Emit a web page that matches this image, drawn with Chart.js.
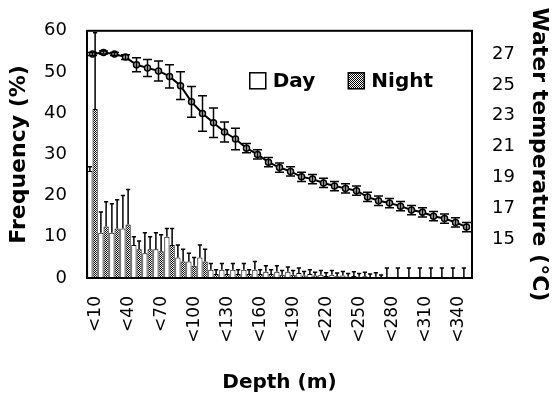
<!DOCTYPE html>
<html>
<head>
<meta charset="utf-8">
<script src="https://cdn.jsdelivr.net/npm/chart.js@4/dist/chart.umd.min.js"></script>
<style>
  body { margin: 0; background: #fff; }
</style>
</head>
<body>
<canvas id="depthChart" width="552" height="396"></canvas>
<script>
// depth classes (10 m bins)
const depthBins = ['<10', '<20', '<30', '<40', '<50', '<60', '<70', '<80', '<90', '<100',
    '<110', '<120', '<130', '<140', '<150', '<160', '<170', '<180', '<190', '<200',
    '<210', '<220', '<230', '<240', '<250', '<260', '<270', '<280', '<290', '<300',
    '<310', '<320', '<330', '<340', '<350']

// frequency (%) by depth, day and night, with upper error
const dayFreq = [26, 11, 11, 12, 8, 6, 7, 10, 5, 4, 5, 2, 2, 2, 2, 2, 1.5, 1.5, 1.5, 1.2,
    1, 0.8, 0.8, 0.6, 0.5, 0.4, 0.3, 0.2, 0.2, 0.2, 0.2, 0.2, 0.2, 0.2, 0.2]
const dayErr = [1, 5, 7, 8, 2, 5, 4, 2, 3, 2, 3, 1.5, 1.5, 1.5, 1.5, 2, 1.5, 1.5, 1.2, 1.2,
    1, 1, 1, 1, 1, 1, 1, 2.2, 2.2, 2.2, 2.2, 2.2, 2.2, 2.2, 2.2]
const nightFreq = [41, 12.5, 12, 13, 7, 7, 6.5, 8, 4, 3, 4, 1, 1, 1, 1, 1, 1, 0.8, 0.8, 0.6,
    0.6, 0.5, 0.4, 0.3, 0.3, 0.2, 0.2, 0, 0, 0, 0, 0, 0, 0, 0]
const nightErr = [18.5, 6, 7, 8.5, 2, 3, 4, 4, 3, 2, 3, 1, 1, 1, 1, 1, 1, 1, 1, 1,
    0.8, 0.8, 0.8, 0.8, 0.8, 0.8, 0.5, 0, 0, 0, 0, 0, 0, 0, 0]

// mean water temperature (°C) per depth class, +/- error
const waterTemp = [27.0, 27.1, 27.0, 26.8, 26.3, 26.1, 25.9, 25.55, 24.95, 23.9,
    23.15, 22.55, 21.95, 21.5, 20.9, 20.5, 20.0, 19.65, 19.4, 19.05,
    18.9, 18.65, 18.45, 18.3, 18.15, 17.75, 17.5, 17.35, 17.15, 16.9,
    16.75, 16.5, 16.35, 16.1, 15.8]
const tempErr = [0.1, 0.1, 0.1, 0.15, 0.45, 0.55, 0.65, 0.75, 0.9, 1.0,
    1.15, 0.95, 0.65, 0.7, 0.3, 0.3, 0.3, 0.3, 0.3, 0.3,
    0.3, 0.3, 0.3, 0.3, 0.3, 0.3, 0.3, 0.3, 0.3, 0.3,
    0.3, 0.3, 0.3, 0.3, 0.3]

const freqTicks = [0, 10, 20, 30, 40, 50, 60]
const tempTicks = [15, 17, 19, 21, 23, 25, 27]

Chart.defaults.font.family = 'DejaVu Sans'
Chart.defaults.color = '#000'

// stippled fill for the night bars
function stipple() {
    const c = document.createElement('canvas')
    c.width = 2
    c.height = 2
    const g = c.getContext('2d')
    g.fillStyle = '#fff'
    g.fillRect(0, 0, 2, 2)
    g.fillStyle = '#000'
    g.fillRect(0, 0, 1, 1)
    g.fillRect(1, 1, 1, 1)
    return g.createPattern(c, 'repeat')
}

// box around the plot area
const frame = {
    id: 'frame',
    afterDraw(chart) {
        const { ctx, chartArea: a } = chart
        ctx.save()
        ctx.strokeStyle = '#000'
        ctx.lineWidth = 2
        ctx.strokeRect(a.left, a.top, a.right - a.left, a.bottom - a.top)
        ctx.restore()
    }
}

// Day / Night key, inside the plot at the upper right
const barKey = {
    id: 'barKey',
    afterDraw(chart) {
        const { ctx, chartArea: a } = chart
        const items = chart.data.datasets.filter(ds => ds.type === 'bar')
        const box = 16, gap = 7, spacing = 33
        ctx.save()
        ctx.font = 'bold 20px "DejaVu Sans"'
        ctx.textBaseline = 'middle'
        const widths = items.map(ds => box + gap + ctx.measureText(ds.label).width)
        const total = widths.reduce((s, w) => s + w, 0) + spacing * (items.length - 1)
        let x = a.right - 39 - total
        const y = a.top + 50
        items.forEach((ds, i) => {
            ctx.fillStyle = ds.backgroundColor
            ctx.fillRect(x, y - box / 2, box, box)
            ctx.strokeStyle = '#000'
            ctx.lineWidth = 1.5
            ctx.strokeRect(x, y - box / 2, box, box)
            ctx.fillStyle = '#000'
            ctx.fillText(ds.label, x + box + gap, y + 1)
            x += widths[i] + spacing
        })
        ctx.restore()
    }
}

// error bars: bars get the upper one only, the line gets both
const errorBars = {
    id: 'errorBars',
    afterDatasetsDraw(chart) {
        const ctx = chart.ctx
        ctx.save()
        ctx.strokeStyle = '#000'
        ctx.lineWidth = 1.5
        chart.data.datasets.forEach((ds, i) => {
            if (!ds.errorBars) return
            const meta = chart.getDatasetMeta(i)
            const scale = chart.scales[meta.yAxisID]
            const isLine = ds.type === 'line'
            meta.data.forEach((el, j) => {
                const err = ds.errorBars[j]
                if (!err) return
                const v = ds.data[j]
                const yHi = scale.getPixelForValue(v + err)
                const yLo = isLine ? scale.getPixelForValue(v - err) : scale.getPixelForValue(v)
                const half = isLine ? 4.5 : Math.max(2, el.width / 2 - 0.5)
                ctx.beginPath()
                ctx.moveTo(el.x, yLo)
                ctx.lineTo(el.x, yHi)
                ctx.moveTo(el.x - half, yHi)
                ctx.lineTo(el.x + half, yHi)
                if (isLine) {
                    ctx.moveTo(el.x - half, yLo)
                    ctx.lineTo(el.x + half, yLo)
                }
                ctx.stroke()
            })
        })
        ctx.restore()
    }
}

const ctx = document.getElementById('depthChart').getContext('2d')

new Chart(ctx, {
    data: {
        labels: depthBins,
        datasets: [
            {
                type: 'line',
                label: 'Water temperature',
                data: waterTemp,
                errorBars: tempErr,
                yAxisID: 'y1',
                borderColor: '#000',
                borderWidth: 2,
                pointRadius: 3,
                pointBackgroundColor: '#bbb',
                pointBorderColor: '#000',
                pointBorderWidth: 1.5,
                order: 0
            },
            {
                type: 'bar',
                label: 'Day',
                data: dayFreq,
                errorBars: dayErr,
                yAxisID: 'y',
                backgroundColor: '#fff',
                borderColor: '#000',
                borderWidth: 1,
                categoryPercentage: 0.95,
                barPercentage: 1,
                order: 1
            },
            {
                type: 'bar',
                label: 'Night',
                data: nightFreq,
                errorBars: nightErr,
                yAxisID: 'y',
                backgroundColor: stipple(),
                borderColor: '#000',
                borderWidth: 1,
                categoryPercentage: 0.95,
                barPercentage: 1,
                order: 1
            }
        ]
    },
    options: {
        responsive: false,
        animation: false,
        layout: {
            padding: { top: 27, left: 0, right: 0, bottom: 0 }
        },
        plugins: {
            legend: { display: false },
            tooltip: { enabled: false }
        },
        scales: {
            x: {
                offset: true,
                afterFit: scale => { scale.height = 118 },
                grid: { display: false, drawTicks: false },
                border: { color: '#000', width: 2 },
                ticks: {
                    autoSkip: false,
                    minRotation: 90,
                    maxRotation: 90,
                    padding: 18,
                    labelOffset: 3,
                    font: { size: 17 },
                    callback: function (value, index) {
                        return index % 3 === 0 ? this.getLabelForValue(value) : ''
                    }
                },
                title: {
                    display: true,
                    text: 'Depth (m)',
                    font: { size: 20, weight: 'bold' },
                    padding: { top: 0, bottom: 1 }
                }
            },
            y: {
                position: 'left',
                min: 0,
                max: 60,
                afterBuildTicks: scale => { scale.ticks = freqTicks.map(v => ({ value: v })) },
                afterFit: scale => { scale.width = 87 },
                grid: { display: false, drawTicks: false },
                border: { color: '#000', width: 2 },
                ticks: { font: { size: 18 }, padding: 20 },
                title: {
                    display: true,
                    text: 'Frequency (%)',
                    font: { size: 22, weight: 'bold' },
                    padding: { top: 6, bottom: 0 }
                }
            },
            y1: {
                position: 'right',
                min: 12.5,
                max: 28.5,
                afterBuildTicks: scale => { scale.ticks = tempTicks.map(v => ({ value: v })) },
                afterFit: scale => { scale.width = 80 },
                grid: { display: false, drawTicks: false },
                border: { color: '#000', width: 2 },
                ticks: { font: { size: 18 }, padding: 20 },
                title: {
                    display: true,
                    text: 'Water temperature (°C)',
                    font: { size: 22, weight: 'bold' },
                    padding: { top: 0, bottom: 0 }
                }
            }
        }
    },
    plugins: [frame, errorBars, barKey]
})
</script>
</body>
</html>
